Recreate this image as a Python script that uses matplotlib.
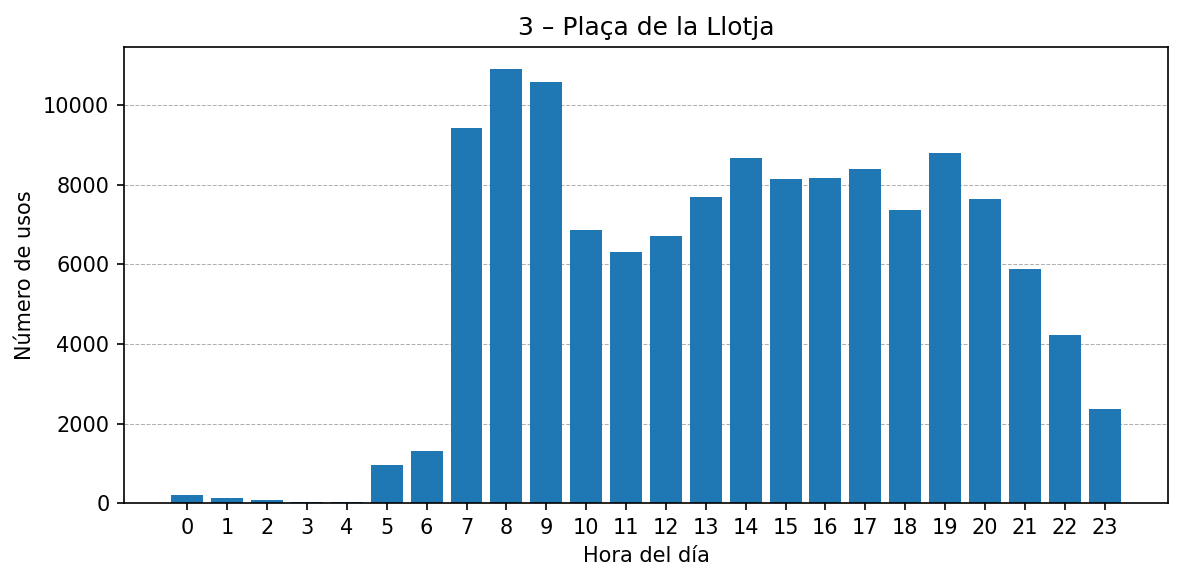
import numpy as np
import matplotlib
matplotlib.use('Agg')
import matplotlib.pyplot as plt

# usos por hora del dia
horas = list(range(24))
usos = [208, 133, 83, 33, 30, 961, 1312, 9435, 10916, 10590, 6876, 6299,
        6725, 7704, 8683, 8156, 8181, 8407, 7378, 8808, 7654, 5872, 4216, 2359]

fig, ax = plt.subplots(figsize=(1184 / 150, 581 / 150), dpi=150)
plt.subplots_adjust(left=0.1047, right=0.9865, top=0.919, bottom=0.134)

ax.bar(horas, usos, color='#1f77b4', zorder=2)
ax.set_xticks(horas)
ax.set_title('3 – Plaça de la Llotja', fontsize=12)
ax.set_xlabel('Hora del día')
ax.set_ylabel('Número de usos')
ax.grid(axis='y', linestyle='--', linewidth=0.5, color='#b0b0b0', zorder=0)

fig.savefig('out.png', dpi=150)
